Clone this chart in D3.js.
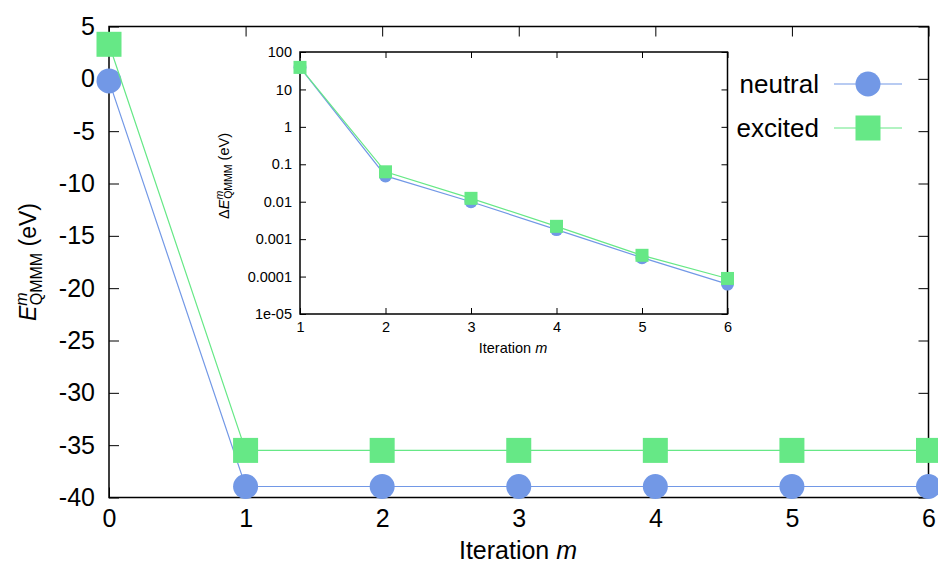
<!DOCTYPE html>
<html>
<head>
<meta charset="utf-8">
<script src="https://cdn.jsdelivr.net/npm/d3@7"></script>
<style>
body { margin: 0; background: #fff; }
text { font-family: "Liberation Sans", Arial, sans-serif; fill: #000; }
</style>
</head>
<body>
<div id="chart"></div>
<script>
// main plot data: total QM/MM energy per iteration
var iterations = [0, 1, 2, 3, 4, 5, 6];
var neutralE = [-0.2, -38.95, -38.95, -38.95, -38.95, -38.95, -38.95];
var excitedE = [3.3, -35.5, -35.5, -35.5, -35.5, -35.5, -35.5];
var mainYTicks = [5, 0, -5, -10, -15, -20, -25, -30, -35, -40];

// inset data: energy change per iteration (log scale)
var insetIter = [1, 2, 3, 4, 5, 6];
var neutralDE = [38.8, 0.049, 0.0100, 0.0018, 0.00032, 0.000063];
var excitedDE = [38.8, 0.063, 0.0123, 0.0022, 0.00037, 0.000089];
var insetYTicks = [100, 10, 1, 0.1, 0.01, 0.001, 0.0001, 0.00001];
var insetYLabels = ["100", "10", "1", "0.1", "0.01", "0.001", "0.0001", "1e-05"];

var seriesNames = ["neutral", "excited"];
var colors = ["#7298e6", "#66e886"];

var W = 938, H = 566;
var FONT = "Liberation Sans, Arial, sans-serif";
var svg = d3.select("#chart").append("svg")
  .attr("width", W).attr("height", H);

// plain hyphen minus like gnuplot
var plain = function(d) { return String(d); };

// ---- main plot ----
var m = {left: 109, right: 928.5, top: 26.5, bottom: 497.5};
var x = d3.scaleLinear().domain([0, 6]).range([m.left, m.right]);
var y = d3.scaleLinear().domain([-40, 5]).range([m.bottom, m.top]);

var main = svg.append("g");

// ticks (gnuplot style: inward, mirrored)
main.append("g")
  .attr("transform", "translate(0," + m.bottom + ")")
  .call(d3.axisBottom(x).tickValues(iterations).tickSizeInner(-10).tickSizeOuter(0).tickPadding(12).tickFormat(plain))
  .call(function(g) { g.select(".domain").remove(); })
  .call(function(g) { g.selectAll("text").attr("font-size", 25).attr("font-family", FONT); });
main.append("g")
  .attr("transform", "translate(0," + m.top + ")")
  .call(d3.axisTop(x).tickValues(iterations).tickSizeInner(-10).tickSizeOuter(0).tickFormat(""))
  .call(function(g) { g.select(".domain").remove(); });
main.append("g")
  .attr("transform", "translate(" + m.left + ",0)")
  .call(d3.axisLeft(y).tickValues(mainYTicks).tickSizeInner(-10).tickSizeOuter(0).tickPadding(14).tickFormat(plain))
  .call(function(g) { g.select(".domain").remove(); })
  .call(function(g) { g.selectAll("text").attr("font-size", 25).attr("font-family", FONT); });
main.append("g")
  .attr("transform", "translate(" + m.right + ",0)")
  .call(d3.axisRight(y).tickValues(mainYTicks).tickSizeInner(-10).tickSizeOuter(0).tickFormat(""))
  .call(function(g) { g.select(".domain").remove(); });

main.append("rect")
  .attr("x", m.left).attr("y", m.top)
  .attr("width", m.right - m.left).attr("height", m.bottom - m.top)
  .attr("fill", "none").attr("stroke", "#000").attr("stroke-width", 1.5);

// axis titles
main.append("text")
  .attr("x", 518).attr("y", 559)
  .attr("text-anchor", "middle").attr("font-size", 25)
  .html('Iteration <tspan font-style="italic">m</tspan>');

var ylab = main.append("text")
  .attr("transform", "translate(36," + 262 + ") rotate(-90)")
  .attr("text-anchor", "middle").attr("font-size", 23);
ylab.append("tspan").attr("font-style", "italic").text("E");
ylab.append("tspan").attr("font-style", "italic").attr("font-size", 16).attr("dy", -9).text("m");
ylab.append("tspan").attr("font-size", 16).attr("dx", -13).attr("dy", 15).text("QMMM");
ylab.append("tspan").attr("dy", -6).text(" (eV)");

function drawSeries(g, xs, ys, xsc, ysc, color, shape, size) {
  var pts = xs.map(function(d, i) { return [d, ys[i]]; });
  var line = d3.line()
    .x(function(d) { return xsc(d[0]); })
    .y(function(d) { return ysc(d[1]); });
  g.append("path").attr("d", line(pts))
    .attr("fill", "none").attr("stroke", color).attr("stroke-width", 1.2);
  if (shape === "circle") {
    g.selectAll(null).data(pts).enter().append("circle")
      .attr("cx", function(d) { return xsc(d[0]); })
      .attr("cy", function(d) { return ysc(d[1]); })
      .attr("r", size / 2).attr("fill", color);
  } else {
    g.selectAll(null).data(pts).enter().append("rect")
      .attr("x", function(d) { return xsc(d[0]) - size / 2; })
      .attr("y", function(d) { return ysc(d[1]) - size / 2; })
      .attr("width", size).attr("height", size).attr("fill", color);
  }
}

var mainData = main.append("g");
drawSeries(mainData, iterations, neutralE, x, y, colors[0], "circle", 25);
drawSeries(mainData, iterations, excitedE, x, y, colors[1], "square", 25);

// ---- inset ----
var im = {left: 300, right: 727.5, top: 52, bottom: 314};
var ix = d3.scaleLinear().domain([1, 6]).range([im.left, im.right]);
var iy = d3.scaleLog().domain([1e-5, 100]).range([im.bottom, im.top]);

var inset = svg.append("g");
inset.append("rect")
  .attr("x", im.left).attr("y", im.top)
  .attr("width", im.right - im.left).attr("height", im.bottom - im.top)
  .attr("fill", "#fff");

inset.append("g")
  .attr("transform", "translate(0," + im.bottom + ")")
  .call(d3.axisBottom(ix).tickValues(insetIter).tickSizeInner(-6).tickSizeOuter(0).tickPadding(8).tickFormat(plain))
  .call(function(g) { g.select(".domain").remove(); })
  .call(function(g) { g.selectAll("text").attr("font-size", 14.5).attr("font-family", FONT); });
inset.append("g")
  .attr("transform", "translate(0," + im.top + ")")
  .call(d3.axisTop(ix).tickValues(insetIter).tickSizeInner(-6).tickSizeOuter(0).tickFormat(""))
  .call(function(g) { g.select(".domain").remove(); });
inset.append("g")
  .attr("transform", "translate(" + im.left + ",0)")
  .call(d3.axisLeft(iy).tickValues(insetYTicks).tickSizeInner(-6).tickSizeOuter(0).tickPadding(8)
    .tickFormat(function(d, i) { return insetYLabels[i]; }))
  .call(function(g) { g.select(".domain").remove(); })
  .call(function(g) { g.selectAll("text").attr("font-size", 14.5).attr("font-family", FONT); });
inset.append("g")
  .attr("transform", "translate(" + im.right + ",0)")
  .call(d3.axisRight(iy).tickValues(insetYTicks).tickSizeInner(-6).tickSizeOuter(0).tickFormat(""))
  .call(function(g) { g.select(".domain").remove(); });

inset.append("rect")
  .attr("x", im.left).attr("y", im.top)
  .attr("width", im.right - im.left).attr("height", im.bottom - im.top)
  .attr("fill", "none").attr("stroke", "#000").attr("stroke-width", 1.5);

inset.append("text")
  .attr("x", 513).attr("y", 353)
  .attr("text-anchor", "middle").attr("font-size", 14.5)
  .html('Iteration <tspan font-style="italic">m</tspan>');

var iylab = inset.append("text")
  .attr("transform", "translate(229,176) rotate(-90)")
  .attr("text-anchor", "middle").attr("font-size", 14.5);
iylab.append("tspan").text("\u0394");
iylab.append("tspan").attr("font-style", "italic").text("E");
iylab.append("tspan").attr("font-style", "italic").attr("font-size", 10.5).attr("dy", -6).text("m");
iylab.append("tspan").attr("font-size", 10.5).attr("dx", -8).attr("dy", 9).text("QMMM");
iylab.append("tspan").attr("dy", -3).text(" (eV)");

var insetData = inset.append("g");
drawSeries(insetData, insetIter, neutralDE, ix, iy, colors[0], "circle", 13);
drawSeries(insetData, insetIter, excitedDE, ix, iy, colors[1], "square", 13);

// ---- legend ----
var legend = svg.append("g");
var legendY = [84, 128];
seriesNames.forEach(function(name, i) {
  var row = legend.append("g").attr("transform", "translate(0," + legendY[i] + ")");
  row.append("text").attr("x", 819).attr("y", 9)
    .attr("text-anchor", "end").attr("font-size", 26).text(name);
  row.append("line").attr("x1", 834).attr("x2", 902)
    .attr("stroke", colors[i]).attr("stroke-width", 1.2);
  if (i === 0) {
    row.append("circle").attr("cx", 868).attr("r", 12.5).attr("fill", colors[i]);
  } else {
    row.append("rect").attr("x", 855.5).attr("y", -12.5)
      .attr("width", 25).attr("height", 25).attr("fill", colors[i]);
  }
});
</script>
</body>
</html>
